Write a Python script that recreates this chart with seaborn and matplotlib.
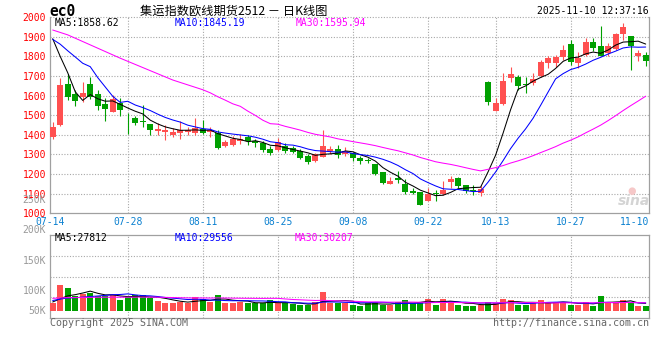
# coding: utf-8
"""
集运指数欧线期货 ec0 日K线图 (仿新浪财经样式)
"""

import numpy as np
import pandas as pd
import seaborn as sns
import matplotlib
matplotlib.use("Agg")
from matplotlib import pyplot as plt

# ---------------- 数据 ----------------
# 07-14 ~ 11-10, 共 80 个交易日
opens = [1390, 1450, 1658, 1608, 1592, 1658, 1608, 1558, 1515, 1565,
         1503, 1487, 1473, 1453, 1420, 1417, 1398, 1412, 1415, 1408,
         1432, 1417, 1407, 1344, 1349, 1369, 1390, 1368, 1356, 1327,
         1322, 1344, 1332, 1319, 1293, 1268, 1288, 1317, 1327, 1302,
         1310, 1280, 1270, 1250, 1210, 1150, 1178, 1150, 1113, 1108,
         1065, 1104, 1096, 1159, 1178, 1142, 1118, 1101, 1671, 1524,
         1555, 1688, 1693, 1659, 1666, 1700, 1766, 1766, 1797, 1864,
         1766, 1805, 1874, 1852, 1817, 1838, 1916, 1903, 1803, 1809]
highs = [1465, 1690, 1712, 1628, 1668, 1695, 1628, 1587, 1603, 1587,
         1512, 1498, 1553, 1455, 1462, 1448, 1437, 1470, 1442, 1487,
         1475, 1441, 1425, 1375, 1395, 1403, 1400, 1381, 1369, 1344,
         1386, 1356, 1344, 1327, 1302, 1310, 1425, 1344, 1347, 1336,
         1315, 1292, 1284, 1253, 1212, 1185, 1215, 1176, 1130, 1110,
         1130, 1118, 1164, 1190, 1185, 1145, 1142, 1138, 1675, 1588,
         1714, 1748, 1705, 1697, 1714, 1783, 1803, 1809, 1857, 1886,
         1821, 1895, 1895, 1955, 1866, 1918, 1969, 1905, 1834, 1822]
lows = [1378, 1445, 1578, 1545, 1570, 1582, 1525, 1470, 1515, 1498,
        1403, 1448, 1440, 1398, 1398, 1373, 1387, 1378, 1398, 1398,
        1403, 1390, 1327, 1336, 1344, 1353, 1349, 1336, 1314, 1298,
        1319, 1310, 1310, 1276, 1251, 1264, 1285, 1302, 1281, 1293,
        1268, 1250, 1255, 1195, 1150, 1150, 1155, 1096, 1100, 1042,
        1063, 1061, 1092, 1130, 1130, 1104, 1091, 1087, 1550, 1521,
        1553, 1671, 1631, 1616, 1653, 1697, 1743, 1748, 1783, 1757,
        1743, 1800, 1826, 1800, 1803, 1834, 1886, 1731, 1778, 1752]
closes = [1442, 1653, 1595, 1575, 1613, 1592, 1545, 1533, 1582, 1525,
          1500, 1462, 1465, 1423, 1428, 1425, 1415, 1425, 1425, 1437,
          1412, 1425, 1332, 1366, 1378, 1381, 1369, 1356, 1322, 1307,
          1366, 1319, 1313, 1281, 1263, 1302, 1344, 1327, 1298, 1319,
          1281, 1267, 1265, 1198, 1152, 1164, 1168, 1108, 1104, 1044,
          1096, 1098, 1118, 1176, 1138, 1113, 1112, 1125, 1567, 1562,
          1676, 1709, 1648, 1653, 1683, 1769, 1791, 1797, 1834, 1769,
          1791, 1874, 1843, 1803, 1852, 1916, 1952, 1852, 1817, 1778]
volumes = [30300, 94900, 85000, 55800, 62000, 64600, 55800, 55800, 58400, 40100,
           52200, 58400, 58400, 46400, 37600, 30300, 30300, 33900, 30300, 52200,
           43800, 33900, 58400, 30300, 30300, 33900, 28100, 28100, 28100, 40100,
           28100, 28100, 25600, 21900, 21900, 33900, 70400, 30000, 28100, 28100,
           21900, 18300, 30300, 33900, 21900, 21900, 33900, 40100, 28100, 33900,
           43800, 21900, 43800, 36500, 21900, 18300, 18300, 21900, 33900, 30300,
           43800, 40100, 21900, 21900, 30300, 40100, 30300, 30300, 33900, 21900,
           21900, 33900, 18300, 55800, 28100, 28100, 40100, 33900, 18300, 18400]

# 窗口之前的收盘价和成交量 (只用于计算起始段的均线)
prior_closes = [2025, 1967, 2085, 2123, 2102, 2055, 2043, 2092, 2035, 1977,
                1939, 1942, 1900, 1905, 1902, 1892, 1797, 1797, 1809, 1784,
                1900, 1930, 1890, 1936, 1765, 2103, 2010, 2060, 1835]
prior_volumes = [52000, 47000, 55000, 49000, 51000, 46000, 53000, 50000, 48000, 54000,
                 49000, 52000, 47000, 50000, 51000, 48000, 53000, 49000, 50000, 50000,
                 45000, 42000, 46000, 43000, 43000, 35000, 33000, 34000, 32000]

date_labels = ['07-14', '07-28', '08-11', '08-25', '09-08', '09-22', '10-13', '10-27', '11-10']
date_index = [0, 10, 20, 30, 40, 50, 59, 69, 79]
price_ticks = [1000, 1100, 1200, 1300, 1400, 1500, 1600, 1700, 1800, 1900, 2000]
vol_labels = ['250K', '200K', '150K', '100K', '50K']

title_text = '集运指数欧线期货2512 － 日K线图'
time_text = '2025-11-10 12:37:16'
price_legend = ['MA5:1858.62', 'MA10:1845.19', 'MA30:1595.94']
vol_legend = ['MA5:27812', 'MA10:29556', 'MA30:30207']

# ---------------- 样式 ----------------
RED = '#ff5050'
GREEN = '#00a000'
MA_COLORS = ['black', '#0000ff', '#ff00ff']
GRID = '#a8a8a8'
BORDER = '#a0a0a0'
DATE_BLUE = '#0a80d0'
W, H = 660, 360


def fx(px):
    return px / W


def fy(py):
    return 1 - py / H


def main():
    sns.set_style('white')
    plt.rcParams['font.family'] = ['DejaVu Sans Mono', 'Noto Sans CJK SC']

    n = len(closes)
    idx = np.arange(n)
    df = pd.DataFrame({'idx': idx, 'open': opens, 'high': highs, 'low': lows,
                       'close': closes, 'vol': volumes})
    df['dir'] = np.where(df['close'] >= df['open'], 'up', 'down')
    colors = np.where(df['dir'] == 'up', RED, GREEN)

    # 均线
    all_close = pd.Series(prior_closes + closes)
    all_vol = pd.Series(prior_volumes + volumes)
    k = len(prior_closes)
    ma_price = [all_close.rolling(w).mean().iloc[k:].values for w in (5, 10, 30)]
    ma_vol = [all_vol.rolling(w).mean().iloc[k:].values for w in (5, 10, 30)]

    fig = plt.figure(figsize=(W / 100, H / 100), dpi=100)
    fig.patch.set_facecolor('white')

    # 像素布局
    left, right = 50, 649
    main_top, main_bot = 17.2, 213.3
    vol_top, vol_bot, vol_base = 234.7, 318.3, 311
    step, x0_px = 7.506, 52.7
    xlim = ((left - x0_px) / step, (right - x0_px) / step)

    ax = fig.add_axes([fx(left), fy(main_bot), (right - left) / W, (main_bot - main_top) / H])
    axv = fig.add_axes([fx(left), fy(vol_bot), (right - left) / W, (vol_bot - vol_top) / H])

    # ---- K线 ----
    body_low = np.minimum(df['open'], df['close'])
    body_h = np.maximum(np.abs(df['close'] - df['open']), 2.5)
    ax.vlines(idx, df['low'], df['high'], colors=colors, linewidth=0.8, zorder=3)
    ax.bar(idx, body_h, bottom=body_low, width=0.8, color=colors, linewidth=0, zorder=4)

    for ma, c in zip(ma_price, MA_COLORS):
        sns.lineplot(x=idx, y=ma, color=c, linewidth=0.75, ax=ax, legend=False, zorder=5)

    ax.set_xlim(*xlim)
    ax.set_ylim(1000, 2000)
    for p in price_ticks[1:]:
        ax.axhline(p, color=GRID, linewidth=0.8, linestyle=(0, (1, 1.5)), zorder=1, clip_on=False)
    for i in date_index[1:-1]:
        ax.axvline(i, color=GRID, linewidth=0.8, linestyle=(0, (1, 1.5)), zorder=1)

    ax.set_yticks(price_ticks)
    ax.set_yticklabels([str(p) for p in price_ticks])
    ax.tick_params(axis='y', length=0, pad=2.9, labelsize=7, labelcolor='#ff0000')
    tick_pos = [xlim[0]] + date_index[1:-1] + [xlim[1]]
    ax.set_xticks(tick_pos)
    ax.set_xticklabels(date_labels)
    ax.tick_params(axis='x', length=0, pad=3.0, labelsize=7, labelcolor=DATE_BLUE)
    ax.get_xticklabels()[-1].set_horizontalalignment('right')
    ax.set_xlabel('')
    ax.set_ylabel('')
    for side in ('left', 'right', 'bottom'):
        ax.spines[side].set_color(BORDER)
        ax.spines[side].set_linewidth(0.9)
    ax.spines['top'].set_visible(False)

    # ---- 成交量 ----
    sns.barplot(x=idx, y=volumes, hue=df['dir'].values,
                palette={'up': RED, 'down': GREEN}, dodge=False, width=0.8,
                saturation=1, linewidth=0, legend=False, ax=axv, zorder=3)
    for ma, c in zip(ma_vol, MA_COLORS):
        sns.lineplot(x=idx, y=ma, color=c, linewidth=0.75, ax=axv, legend=False, zorder=5)

    vol_per_px = 3650
    axv.set_xlim(*xlim)
    axv.set_ylim(-(vol_bot - vol_base) * vol_per_px, (vol_base - vol_top) * vol_per_px)
    for f in (0.25, 0.5, 0.75):
        axv.plot([0, 1], [f, f], transform=axv.transAxes, color=GRID,
                 linewidth=0.8, linestyle=(0, (1, 1.5)), zorder=1)
    for i in date_index[1:-1]:
        axv.axvline(i, color=GRID, linewidth=0.8, linestyle=(0, (1, 1.5)), zorder=1)
    axv.set_xticks([])
    axv.set_yticks([])
    axv.set_xlabel('')
    axv.set_ylabel('')
    for side in axv.spines:
        axv.spines[side].set_color(BORDER)
        axv.spines[side].set_linewidth(0.9)

    # ---- 文字 ----
    fig.text(fx(49), fy(12), 'ec0', fontsize=10.5, fontweight='bold', va='center', color='black')
    fig.text(fx(140), fy(11.5), title_text, fontsize=8.8, va='center', color='black',
             family=['Noto Sans CJK SC', 'DejaVu Sans'])
    fig.text(fx(649), fy(11.2), time_text, fontsize=7, va='center', ha='right', color='black')

    for txt, c, x in zip(price_legend, MA_COLORS, (55, 175, 296)):
        fig.text(fx(x), fy(23.5), txt, fontsize=7, va='center', color=c)
    for txt, c, x in zip(vol_legend, MA_COLORS, (55, 175, 295)):
        fig.text(fx(x), fy(238), txt, fontsize=7, va='center', color=c)

    for txt, py in zip(vol_labels, (200, 230, 260.5, 291, 311)):
        fig.text(fx(46), fy(py), txt, fontsize=7, va='center', ha='right', color='#999999')

    fig.text(fx(50), fy(323), 'Copyright 2025 SINA.COM', fontsize=7.2, va='center', color='#666666')
    fig.text(fx(649), fy(323), 'http://finance.sina.com.cn', fontsize=7.2, va='center',
             ha='right', color='#666666')

    # 水印
    fig.text(fx(632), fy(191), '●', fontsize=7, va='center', ha='center', color='#f6c8c8',
             family=['DejaVu Sans'])
    fig.text(fx(634), fy(201), 'sina', fontsize=10, va='center', ha='center', color='#d4d4d4',
             fontweight='bold', style='italic', family=['DejaVu Sans'])

    fig.savefig('out.png', dpi=100, facecolor='white')


if __name__ == '__main__':
    main()
